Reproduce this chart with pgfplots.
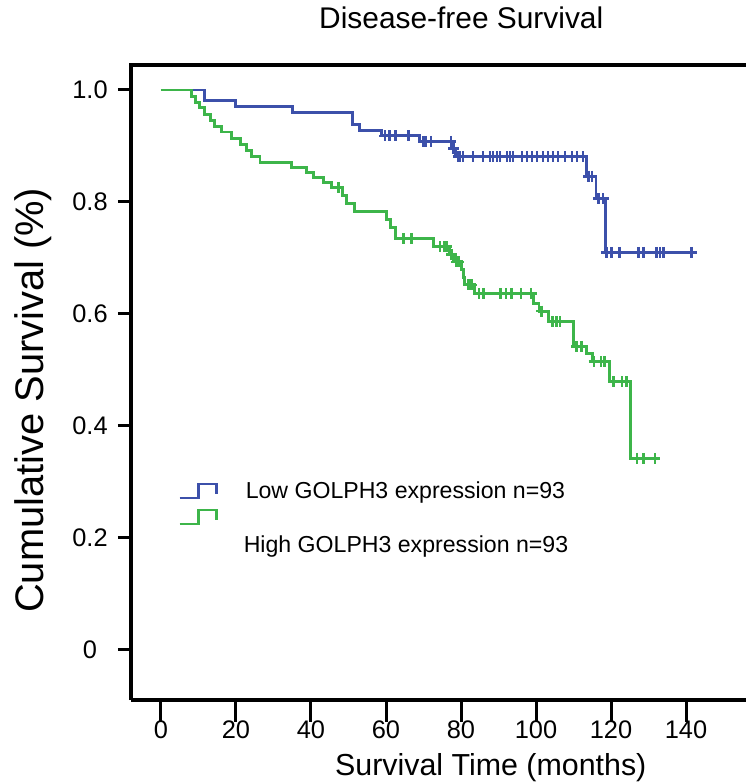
\documentclass[border=0pt]{standalone}
\usepackage{pgfplots}
\pgfplotsset{compat=1.18}
\usepackage{fontspec}
\setmainfont{Liberation Sans}
\definecolor{kmblue}{HTML}{3C50AA}
\definecolor{kmgreen}{HTML}{3DB54A}
\begin{document}
\begin{tikzpicture}
\begin{axis}[
  name=ax, at={(0,0)}, anchor=south west,
  scale only axis, width=615bp, height=635bp,
  xmin=-8, xmax=156, ymin=-0.0893, ymax=1.0446,
  axis x line*=bottom, axis y line*=left,
  x axis line style={-, line width=3.2bp},
  y axis line style={-, line width=3.2bp},
  xtick={0,20,40,60,80,100,120,140},
  xticklabels={0,20,40,60,80,100,120,140},
  ytick={0,0.2,0.4,0.6,0.8,1.0},
  yticklabels={0,0.2,0.4,0.6,0.8,1.0},
  tick align=outside,
  major tick length=13bp,
  xtick style={/pgfplots/major tick length=22bp},
  tick style={line width=3bp, black},
  tick label style={font=\fontsize{25.5}{30}\selectfont},
  xticklabel style={yshift=-4bp},
  yticklabel style={anchor=center, xshift=-28bp},
  title={Disease-free Survival},
  title style={at={(rel axis cs:0.537,1)}, anchor=base, yshift=31bp, font=\fontsize{30}{34}\selectfont},
  xlabel={Survival Time (months)},
  every axis x label/.style={at={(rel axis cs:0.585,0)}, anchor=center, yshift=-68bp, font=\fontsize{30.5}{34}\selectfont},
  ylabel={Cumulative Survival (\%)},
  every axis y label/.style={at={(rel axis cs:-0.159,0.472)}, anchor=center, rotate=90, font=\fontsize{40}{44}\selectfont},
  legend style={at={(rel axis cs:0.072,0.350)}, anchor=north west, draw=none, fill=none,
    font=\fontsize{23.2}{27}\selectfont, row sep=7bp, nodes={inner sep=2bp}},
  legend cell align=left,
]
% Low GOLPH3 expression
\addplot[const plot, kmblue, line width=2.9bp,
  legend image code/.code={\draw[kmblue, line width=2.3bp] (0bp,-7bp) -- (19bp,-7bp) -- (19bp,7bp) -- (37bp,7bp) -- (37bp,-3bp);}]
coordinates {
(0,1.0) (11.7,0.981) (19.8,0.970) (35.1,0.960) (51.0,0.938) (53.0,0.928)
(58.8,0.918) (69.0,0.908) (77.5,0.895) (78.5,0.881) (113.5,0.846)
(116.0,0.806) (118.6,0.710) (141.5,0.710)
};
\addlegendentry{\hspace{26bp}Low GOLPH3 expression n=93}
% High GOLPH3 expression
\addplot[const plot, kmgreen, line width=2.9bp,
  legend image code/.code={\draw[kmgreen, line width=2.3bp] (0bp,21bp) -- (19bp,21bp) -- (19bp,35bp) -- (37bp,35bp) -- (37bp,25bp);}]
coordinates {
(0,1.0) (8.2,0.989) (9.1,0.978) (10.2,0.968) (11.5,0.957) (13.1,0.946)
(14.2,0.935) (16.2,0.925) (18.9,0.914) (21.1,0.903) (22.9,0.892)
(24.2,0.882) (26.4,0.871) (34.8,0.862) (38.8,0.853) (40.6,0.843)
(43.3,0.834) (45.5,0.826) (48.3,0.812) (49.5,0.797) (51.7,0.783)
(60.2,0.768) (61.3,0.754) (62.5,0.735) (72.6,0.720) (77.0,0.706)
(78.0,0.693) (80.2,0.679) (80.6,0.665) (81.0,0.652) (83.7,0.637)
(99.3,0.619) (100.8,0.605) (103.3,0.586) (110.0,0.542) (113.5,0.529)
(115.0,0.515) (119.7,0.479) (125.1,0.342) (132.6,0.342)
};
\addlegendentry{\hspace{24bp}High GOLPH3 expression n=93}
% censored marks, low
\addplot[forget plot, only marks, mark=+, kmblue, mark size=5.5bp, line width=2.6bp]
coordinates {
(59.7,0.918) (61,0.918) (62.5,0.918) (66,0.918)
(70,0.908) (70.5,0.908) (72,0.908) (77.3,0.908)
(78,0.895)
(79.2,0.881) (79.7,0.881) (80.5,0.881) (83.2,0.881) (85.9,0.881) (87.7,0.881)
(88.5,0.881) (89.6,0.881) (90.4,0.881) (92.3,0.881) (93.1,0.881) (93.9,0.881)
(96.3,0.881) (97.6,0.881) (98.9,0.881) (100.3,0.881) (101.9,0.881) (103.2,0.881)
(104.5,0.881) (105.9,0.881) (107.7,0.881) (109.6,0.881) (110.9,0.881) (112.5,0.881)
(114,0.846) (114.9,0.846)
(116.6,0.806) (117.9,0.806)
(118.8,0.710) (120.2,0.710) (122.2,0.710) (127.3,0.710) (128.6,0.710)
(132.2,0.710) (133.1,0.710) (134,0.710) (141.5,0.710)
};
% censored marks, high
\addplot[forget plot, only marks, mark=+, kmgreen, mark size=5.5bp, line width=2.6bp]
coordinates {
(47.3,0.826)
(64.6,0.735) (66.8,0.735)
(74.4,0.720) (75.5,0.720) (76.2,0.720)
(77.5,0.706)
(78.8,0.693) (79.3,0.693)
(82.0,0.652) (82.8,0.652)
(84.8,0.637) (86.0,0.637) (90.5,0.637) (92.0,0.637) (93.5,0.637) (96.0,0.637) (98.7,0.637)
(101.5,0.605)
(104.4,0.586) (105.5,0.586) (106.4,0.586)
(110.8,0.542) (112.2,0.542)
(115.5,0.515) (117.3,0.515) (118.2,0.515)
(120.6,0.479) (122.9,0.479) (124.2,0.479)
(126.9,0.342) (128.6,0.342) (131.7,0.342)
};
\end{axis}
\draw[line width=3.2bp, line cap=rect] (ax.north west) -- (ax.north east);
\pgfresetboundingbox
\useasboundingbox (-131bp,-82bp) rectangle (615bp,700bp);
\end{tikzpicture}
\end{document}
